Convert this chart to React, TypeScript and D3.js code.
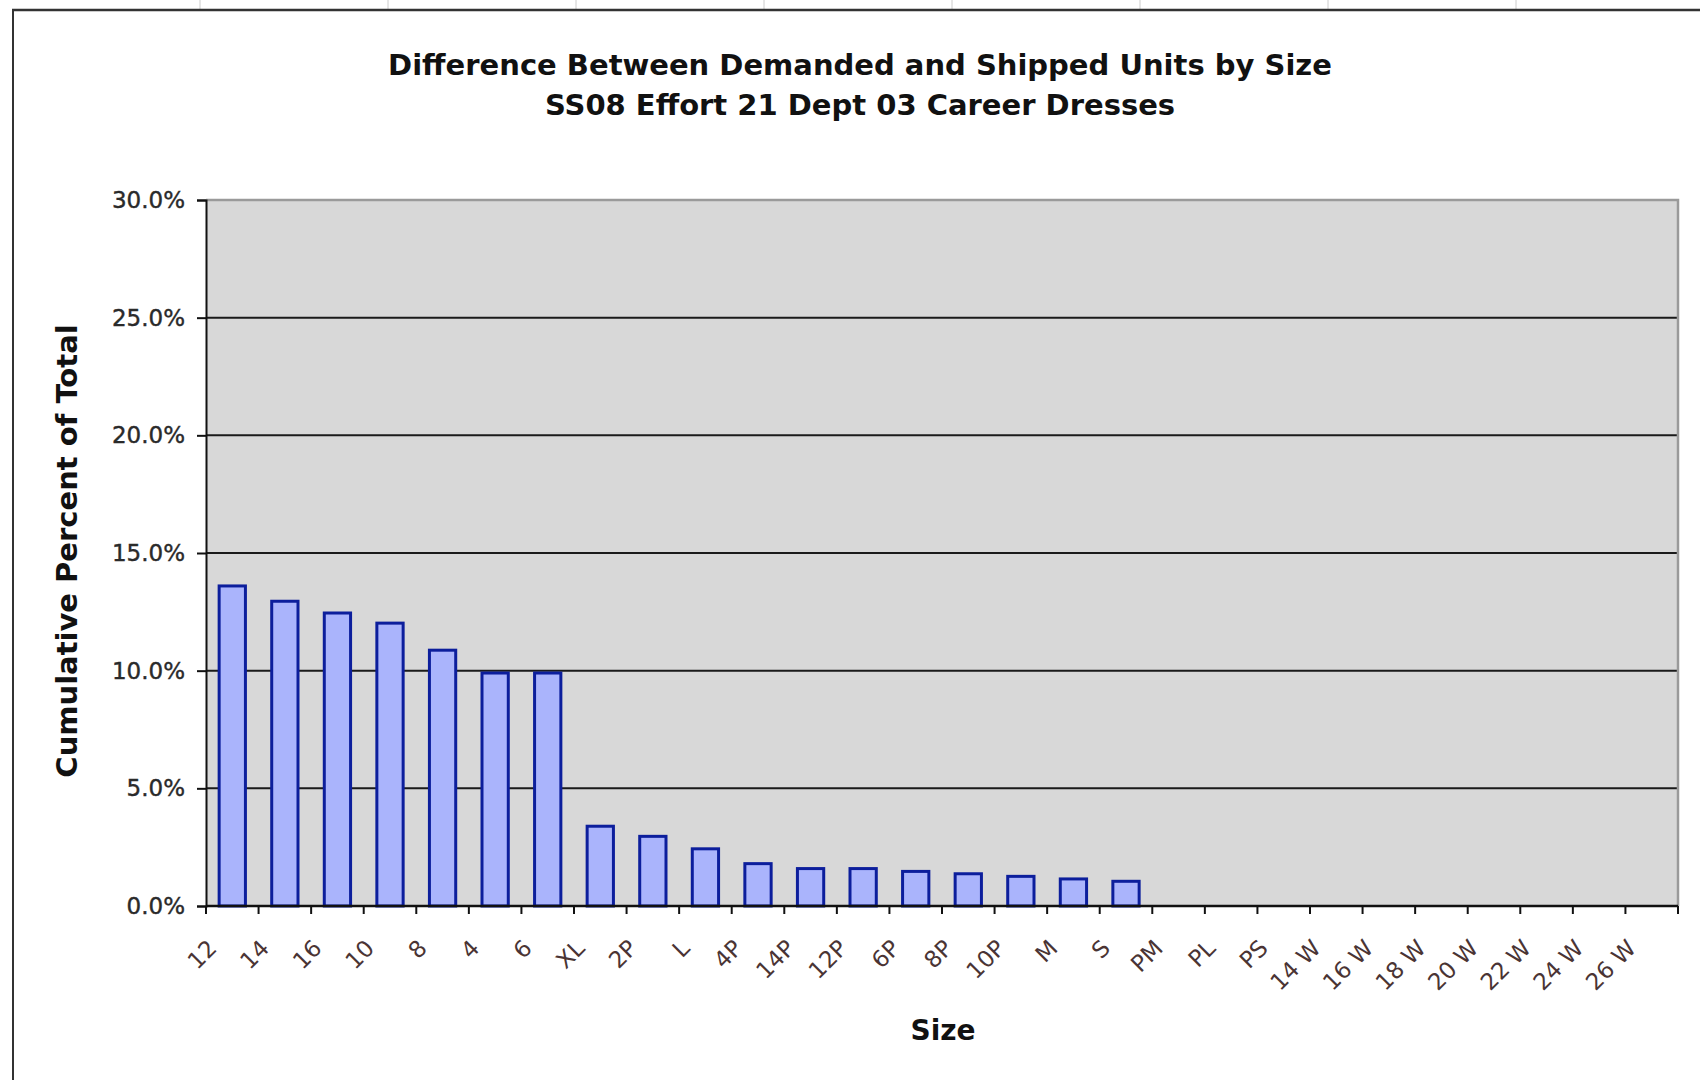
import React, { useEffect, useRef } from 'react';
import * as d3 from 'd3';

// chart data
const sizes = [
  '12', '14', '16', '10', '8', '4', '6', 'XL', '2P', 'L', '4P', '14P', '12P', '6P',
  '8P', '10P', 'M', 'S', 'PM', 'PL', 'PS', '14 W', '16 W', '18 W', '20 W', '22 W', '24 W', '26 W'
];
const cumulativePct = [
  0.136, 0.1295, 0.1245, 0.1202, 0.1087, 0.099, 0.099, 0.0339, 0.0296, 0.0243, 0.018,
  0.0159, 0.0159, 0.0147, 0.0137, 0.0126, 0.0115, 0.0105, 0, 0, 0, 0, 0, 0, 0, 0, 0, 0
];
const yTicks = [0, 0.05, 0.1, 0.15, 0.2, 0.25, 0.3];
const titleLines = [
  'Difference Between Demanded and Shipped Units by Size',
  'SS08 Effort 21 Dept 03 Career Dresses'
];

const W = 1700;
const H = 1080;
const FONT = '"DejaVu Sans", Verdana, sans-serif';

export default function App() {
  const ref = useRef<SVGSVGElement>(null);

  useEffect(() => {
    const svg = d3.select(ref.current);
    svg.selectAll('*').remove();

    // plot area
    const margin = { top: 200, right: 22, bottom: 174, left: 206 };
    const pw = W - margin.left - margin.right;
    const ph = H - margin.top - margin.bottom;

    // spreadsheet frame
    const cols = d3.range(200, W, 188);
    svg.selectAll('line.col').data(cols).enter().append('line')
      .attr('x1', d => d).attr('x2', d => d).attr('y1', 0).attr('y2', 9)
      .attr('stroke', '#ccc').attr('stroke-width', 1);
    svg.append('line').attr('x1', 12).attr('x2', W).attr('y1', 10).attr('y2', 10)
      .attr('stroke', '#333').attr('stroke-width', 2.5);
    svg.append('line').attr('x1', 13).attr('x2', 13).attr('y1', 10).attr('y2', H)
      .attr('stroke', '#333').attr('stroke-width', 2);

    // title
    svg.selectAll('text.title').data(titleLines).enter().append('text')
      .attr('x', 860).attr('y', (d, i) => 75 + i * 40)
      .attr('text-anchor', 'middle')
      .attr('font-family', FONT).attr('font-weight', 'bold').attr('font-size', 29)
      .attr('fill', '#111')
      .text(d => d);

    const g = svg.append('g').attr('transform', `translate(${margin.left},${margin.top})`);

    const x = d3.scaleBand().domain(sizes).range([0, pw]).paddingInner(0.5).paddingOuter(0.25);
    const y = d3.scaleLinear().domain([0, 0.3]).range([ph, 0]);

    g.append('rect').attr('width', pw).attr('height', ph).attr('fill', '#d8d8d8');

    // gridlines
    g.selectAll('line.grid').data(yTicks.slice(1, -1)).enter().append('line')
      .attr('x1', 0).attr('x2', pw).attr('y1', d => y(d)).attr('y2', d => y(d))
      .attr('stroke', '#1a1a1a').attr('stroke-width', 2);

    // frame top / right
    g.append('path').attr('d', `M0,0H${pw}V${ph}`).attr('fill', 'none')
      .attr('stroke', '#9a9a9a').attr('stroke-width', 2.5);

    // bars
    g.selectAll('rect.bar').data(cumulativePct.map((v, i) => ({ size: sizes[i], v })).filter(d => d.v > 0))
      .enter().append('rect')
      .attr('x', d => x(d.size)!)
      .attr('y', d => y(d.v))
      .attr('width', x.bandwidth())
      .attr('height', d => ph - y(d.v))
      .attr('fill', '#aab4fc')
      .attr('stroke', '#0c1e9c')
      .attr('stroke-width', 3);

    // y axis
    const yAxis = d3.axisLeft(y).tickValues(yTicks).tickSize(9).tickPadding(12)
      .tickFormat(d => d3.format('.1%')(d as number));
    const yg = g.append('g').call(yAxis);
    yg.select('.domain').attr('stroke', '#111').attr('stroke-width', 2);
    yg.selectAll('.tick line').attr('stroke', '#111').attr('stroke-width', 2);
    yg.selectAll('.tick text').attr('font-family', FONT).attr('font-size', 23)
      .attr('fill', '#2a2a2a').attr('stroke', '#2a2a2a').attr('stroke-width', 0.4);

    // x axis
    const step = x.step();
    const xg = g.append('g').attr('transform', `translate(0,${ph})`);
    xg.append('line').attr('x1', 0).attr('x2', pw).attr('stroke', '#111').attr('stroke-width', 2.5);
    xg.selectAll('line.tick').data(d3.range(sizes.length + 1)).enter().append('line')
      .attr('x1', d => d * step).attr('x2', d => d * step).attr('y1', 0).attr('y2', 8)
      .attr('stroke', '#111').attr('stroke-width', 2);
    xg.selectAll('text').data(sizes).enter().append('text')
      .attr('transform', d => `translate(${x(d)! + x.bandwidth() / 2 - 20},${38}) rotate(-45)`)
      .attr('text-anchor', 'end').attr('dy', '0.35em')
      .attr('font-family', FONT).attr('font-size', 23).attr('fill', '#4a3434')
      .text(d => d);

    // axis titles
    svg.append('text')
      .attr('x', margin.left + pw / 2 + 1).attr('y', 1040)
      .attr('text-anchor', 'middle')
      .attr('font-family', FONT).attr('font-weight', 'bold').attr('font-size', 28).attr('fill', '#111')
      .text('Size');
    svg.append('text')
      .attr('transform', `translate(77,${margin.top + ph / 2 - 2}) rotate(-90)`)
      .attr('text-anchor', 'middle')
      .attr('font-family', FONT).attr('font-weight', 'bold').attr('font-size', 29).attr('fill', '#111')
      .text('Cumulative Percent of Total');
  }, []);

  return (
    <svg ref={ref} width={W} height={H} style={{ position: 'absolute', left: 0, top: 0, background: '#fff' }} />
  );
}
